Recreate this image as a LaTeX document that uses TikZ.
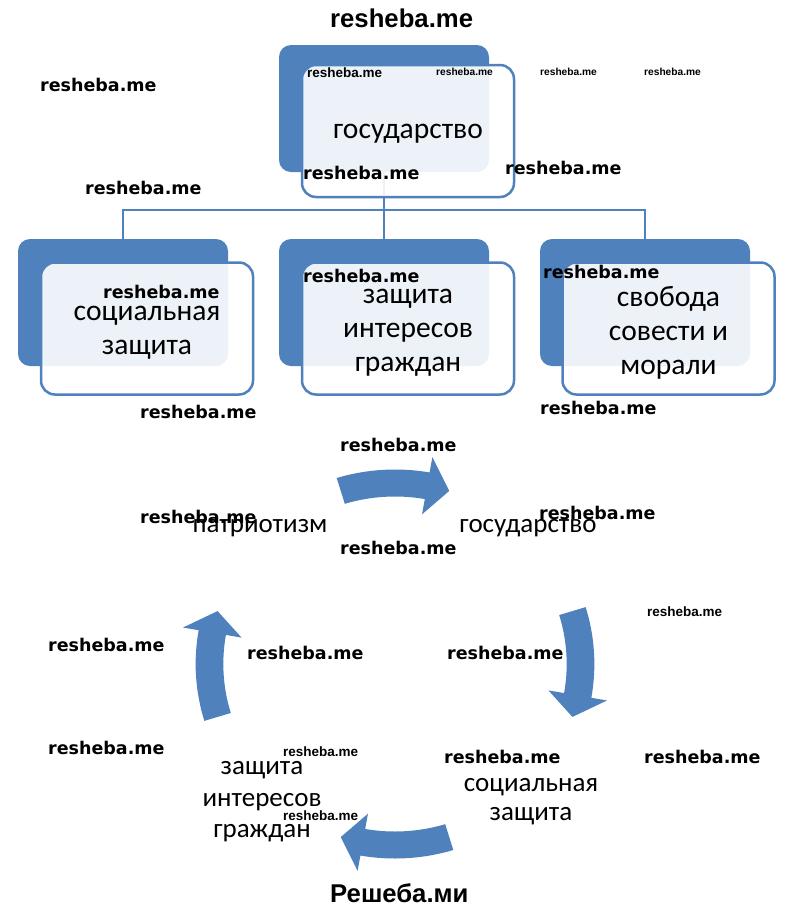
\documentclass[tikz,border=0pt]{standalone}
\usepackage{fontspec}
\setmainfont{Carlito}
\newfontfamily\wmfont{DejaVu Sans}
\newfontfamily\arfont{Liberation Sans}
\definecolor{myblue}{HTML}{4F81BD}
\newcommand\cycarrow[3]{%
  \fill[arr] (#1:194.5pt) arc[start angle=#1, end angle=#2, radius=194.5pt]
    -- (#2:210pt) -- (#3:181pt) -- (#2:152pt) -- (#2:167.5pt)
    arc[start angle=#2, end angle=#1, radius=167.5pt] -- cycle;}
\begin{document}
\begin{tikzpicture}[x=1pt,y=1pt,
  back/.style={fill=myblue, rounded corners=12pt, minimum width=210pt, minimum height=127pt, inner sep=0pt, outer sep=0pt},
  front/.style={draw=myblue, line width=2.5pt, fill=white, fill opacity=0.9, rounded corners=14pt,
    minimum width=212pt, minimum height=132pt, inner sep=0pt, outer sep=0pt},
  lbl/.style={align=center, inner sep=0pt, font=\fontsize{29.5}{34}\selectfont},
  conn/.style={draw=myblue, line width=2.5pt},
  arr/.style={fill=myblue},
  wm/.style={font=\wmfont\bfseries\fontsize{17.5}{20}\selectfont, inner sep=0pt, anchor=west},
  wms/.style={font=\arfont\bfseries\fontsize{13.5}{15}\selectfont, inner sep=0pt, anchor=west},
  wmt/.style={font=\arfont\bfseries\fontsize{10.2}{12}\selectfont, inner sep=0pt, anchor=west},
  wmb/.style={font=\arfont\bfseries\fontsize{25.7}{28}\selectfont, inner sep=0pt, anchor=base west},
  cyc/.style={font=\fontsize{27}{31}\selectfont, align=center, inner sep=0pt}]
\fill[white] (0,0) rectangle (800,-906);
\useasboundingbox (0,0) rectangle (800,-906);

% hierarchy connectors
\node[back] (bT) at (384,-108.5) {};
\node[back] (bL) at (123,-302.5) {};
\node[back] (bM) at (384,-302.5) {};
\node[back] (bR) at (645,-302.5) {};
\coordinate (j) at (384,-210);
\draw[conn] (bT.south) -- (bT.south |- j);
\draw[conn] (bL.north) -- (bL.north |- j) -- (bR.north |- j) -- (bR.north);
\draw[conn] (bM.north) -- (bM.north |- j);

\node[front] (fT) at (408,-131) {};
\node[front] (fL) at (147,-328.5) {};
\node[front] (fM) at (408,-328.5) {};
\node[front] (fR) at (668.5,-328.5) {};
\node[lbl] (tT) at ([yshift=-3pt]fT.center) {государство};
\node[lbl] (tL) at ([yshift=-4pt]fL.center) {социальная\\защита};
\node[lbl] (tM) at ([yshift=-4pt]fM.center) {защита\\интересов\\граждан};
\node[lbl] (tR) at ([yshift=-4pt]fR.center) {свобода\\совести и\\морали};

% cycle arrows
\begin{scope}[shift={(395,-664)}, xscale=1.025]
\cycarrow{107}{80}{73}
\cycarrow{17}{-10}{-17}
\cycarrow{-73}{-100}{-107}
\cycarrow{-163}{-190}{-197}
\end{scope}

% cycle texts
\node[cyc, anchor=base] (tP) at (260,-532) {патриотизм};
\node[cyc, anchor=base] (tG) at (528,-532) {государство};
\node[cyc, font=\fontsize{27}{29}\selectfont] (tS) at (531,-802) {социальная\\защита};
\node[cyc, font=\fontsize{27}{31.5}\selectfont] (tZ) at (262,-802) {защита\\интересов\\граждан};

% watermarks
\node[wmb] (w0) at (330,-27) {resheba.me};
\node[wmb] (w99) at (330,-902) {Решеба.ми};
\node[wm] (w1) at (40,-85) {resheba.me};
\node[wm] (w2) at (303,-173) {resheba.me};
\node[wm] (w3) at (505,-168) {resheba.me};
\node[wm] (w4) at (85,-188) {resheba.me};
\node[wm] (w5) at (103,-292) {resheba.me};
\node[wm] (w6) at (303,-276) {resheba.me};
\node[wm] (w7) at (543,-272) {resheba.me};
\node[wm] (w8) at (140,-412) {resheba.me};
\node[wm] (w9) at (540,-408) {resheba.me};
\node[wm] (w10) at (340,-445) {resheba.me};
\node[wm] (w11) at (140,-517) {resheba.me};
\node[wm] (w12) at (539,-513) {resheba.me};
\node[wm] (w13) at (340,-548) {resheba.me};
\node[wm] (w14) at (48,-645) {resheba.me};
\node[wm] (w15) at (247,-653) {resheba.me};
\node[wm] (w16) at (447,-653) {resheba.me};
\node[wm] (w17) at (48,-748) {resheba.me};
\node[wm] (w18) at (444,-757) {resheba.me};
\node[wm] (w19) at (644,-757) {resheba.me};
\node[wms] (s1) at (307,-73) {resheba.me};
\node[wmt] (s2) at (436,-72) {resheba.me};
\node[wmt] (s3) at (540,-72) {resheba.me};
\node[wmt] (s4) at (644,-72) {resheba.me};
\node[wms] (s5) at (647,-612) {resheba.me};
\node[wms] (s6) at (283,-752) {resheba.me};
\node[wms] (s7) at (283,-816) {resheba.me};
\end{tikzpicture}
\end{document}
